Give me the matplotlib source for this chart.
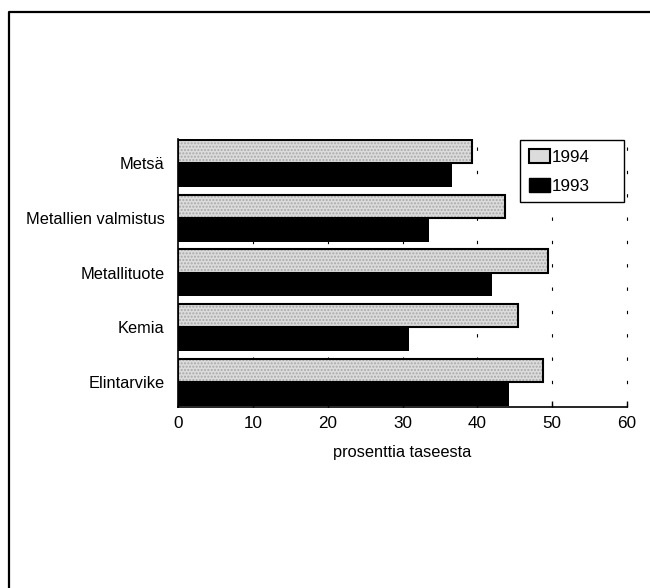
# Horizontal bar chart: 1994 vs 1993 by industry
import matplotlib
matplotlib.use('Agg')
import matplotlib.pyplot as plt
from matplotlib.patches import Patch
from matplotlib.lines import Line2D
import numpy as np

plt.rcParams['font.family'] = ['Liberation Sans', 'DejaVu Sans']

# Data
categories = ['Metsä', 'Metallien valmistus', 'Metallituote', 'Kemia', 'Elintarvike']
values_1994 = [39.3, 43.7, 49.4, 45.4, 48.8]
values_1993 = [36.6, 33.5, 42.0, 30.9, 44.2]
series_labels = ['1994', '1993']
x_ticks = [0, 10, 20, 30, 40, 50, 60]

fs = 11.8

fig = plt.figure(figsize=(6.5, 5.88), dpi=100)
ax = fig.add_axes([0.2746, 0.3083, 0.6896, 0.4548])

y = np.arange(len(categories))
h = 0.43

# grid behind the bars
for t in x_ticks[1:]:
    ax.axvline(t, color='black', lw=0.8, linestyle=(0, (3, 18)), zorder=0, clip_on=False)

# 1994: stippled light grey with a black outline
ax.barh(y - h / 2, values_1994, height=h, color='#dcdcdc', hatch='.....',
        edgecolor='#a8a8a8', linewidth=0, zorder=2)
ax.barh(y - h / 2, values_1994, height=h, fill=False,
        edgecolor='black', linewidth=1.5, zorder=3)
# 1993: solid black
ax.barh(y + h / 2, values_1993, height=h, color='black', linewidth=0, zorder=2)

ax.set_xlim(0, 60)
ax.set_ylim(4.45, -0.44)
ax.set_xticks(x_ticks)
ax.set_xticklabels([str(t) for t in x_ticks], fontsize=fs + 0.5)
ax.set_yticks(y)
ax.set_yticklabels(categories, fontsize=fs)
ax.tick_params(axis='y', length=0, pad=10)
ax.tick_params(axis='x', direction='in', length=4, width=1, pad=7)
ax.set_xlabel('prosenttia taseesta', fontsize=fs, labelpad=10)

ax.spines['top'].set_visible(False)
ax.spines['right'].set_visible(False)
for s in ['left', 'bottom']:
    ax.spines[s].set_linewidth(1.2)
    ax.spines[s].set_color('black')

handles = [Patch(facecolor='#dcdcdc', edgecolor='black', linewidth=1.5),
           Patch(facecolor='black', edgecolor='black')]
leg = ax.legend(handles, series_labels, loc='upper left',
                bbox_to_anchor=(0.763, 0.0, 0.2305, 0.997), mode='expand',
                borderaxespad=0, fancybox=False, framealpha=1, edgecolor='black',
                fontsize=fs + 0.5, handlelength=1.2, handleheight=0.95, handletextpad=0.15,
                labelspacing=0.75, borderpad=0.5)
leg.get_frame().set_linewidth(1.0)
leg.set_zorder(5)

# outer frame (left and top only)
fx = 8.5 / 650
fy = 1 - 11.5 / 588
fig.add_artist(Line2D([fx, fx, 1], [0, fy, fy], transform=fig.transFigure,
                      color='black', lw=1.6))

fig.savefig('out.png', dpi=100)
